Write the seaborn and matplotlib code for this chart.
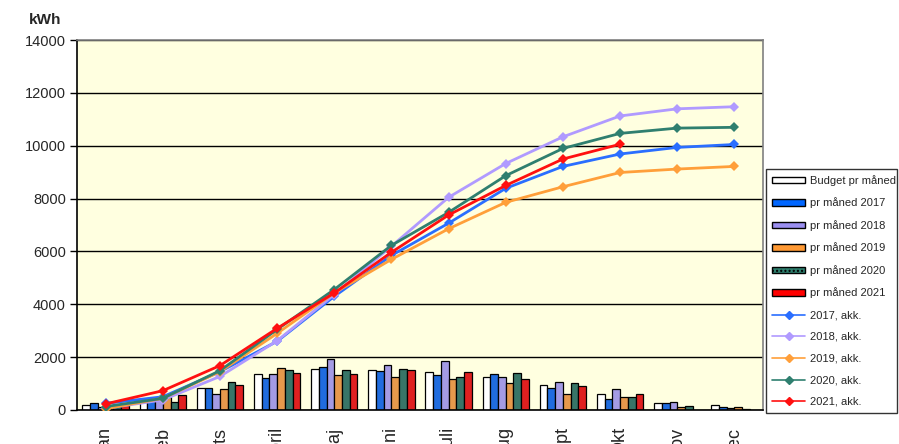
import matplotlib
matplotlib.use('Agg')
import matplotlib.pyplot as plt
import seaborn as sns
import numpy as np
import pandas as pd
from matplotlib.patches import Patch
from matplotlib.lines import Line2D

# months (Danish)
months = ['Jan', 'Feb', 'Marts', 'April', 'Maj', 'Juni', 'Juli', 'Aug', 'Sept', 'Okt', 'Nov', 'Dec']

# monthly bars (kWh)
budget = [180, 320, 820, 1350, 1570, 1520, 1440, 1260, 960, 620, 250, 180]
pm_2017 = [270, 380, 820, 1200, 1640, 1480, 1310, 1370, 820, 430, 250, 130]
pm_2018 = [100, 400, 590, 1350, 1920, 1700, 1870, 1260, 1050, 780, 300, 90]
pm_2019 = [100, 480, 780, 1600, 1310, 1260, 1180, 1010, 610, 510, 130, 130]
pm_2020 = [120, 290, 1050, 1520, 1520, 1570, 1240, 1390, 1010, 490, 160, 20]
pm_2021 = [190, 570, 960, 1390, 1350, 1520, 1430, 1180, 910, 610, None, None]

# accumulated lines (kWh)
akk_2017 = [250, 500, 1450, 2600, 4300, 5850, 7070, 8390, 9220, 9690, 9940, 10050]
akk_2018 = [60, 380, 1270, 2620, 4370, 6200, 8050, 9330, 10340, 11130, 11400, 11480]
akk_2019 = [50, 440, 1450, 2900, 4430, 5700, 6860, 7860, 8450, 8990, 9120, 9220]
akk_2020 = [130, 440, 1490, 3050, 4560, 6230, 7480, 8870, 9900, 10470, 10670, 10700]
akk_2021 = [230, 730, 1680, 3090, 4430, 5970, 7380, 8500, 9500, 10060, None, None]

bar_labels = ['Budget pr måned', 'pr måned 2017', 'pr måned 2018',
              'pr måned 2019', 'pr måned 2020', 'pr måned 2021']
bar_colors = ['#FFFFFF', '#0066FF', '#9B8FF0', '#FF9933', '#2E7F6E', '#FF0000']
line_labels = ['2017, akk.', '2018, akk.', '2019, akk.', '2020, akk.', '2021, akk.']
line_colors = ['#2A6EFF', '#B09AFF', '#FF9F3A', '#2F7F6F', '#FF1010']

rows = []
for lab, vals in zip(bar_labels, [budget, pm_2017, pm_2018, pm_2019, pm_2020, pm_2021]):
    for m, v in zip(months, vals):
        if v is not None:
            rows.append({'month': m, 'kWh': v, 'serie': lab})
bars = pd.DataFrame(rows)

rows = []
for lab, vals in zip(line_labels, [akk_2017, akk_2018, akk_2019, akk_2020, akk_2021]):
    for i, v in enumerate(vals):
        if v is not None:
            rows.append({'pos': i, 'kWh': v, 'serie': lab})
lines = pd.DataFrame(rows)

sns.set_style('white')
plt.rcParams['font.family'] = ['Liberation Sans', 'DejaVu Sans']

fig = plt.figure(figsize=(8.99, 4.44), dpi=100)
ax = fig.add_axes([0.0857, 0.0766, 0.763, 0.833])
ax.set_facecolor('#FFFFE0')

sns.barplot(data=bars, x='month', y='kWh', hue='serie', order=months,
            hue_order=bar_labels, palette=bar_colors, width=0.81,
            edgecolor='black', linewidth=0.9, legend=False, ax=ax, zorder=2)

# dotted pattern for 2020 bars
for p in ax.patches:
    fc = matplotlib.colors.to_hex(p.get_facecolor())
    if fc.lower() == '#2e7f6e':
        p.set_hatch('....')
        if hasattr(p, 'set_hatchcolor'):
            p.set_hatchcolor('#9FD0C0')

sns.lineplot(data=lines, x='pos', y='kWh', hue='serie', hue_order=line_labels,
             palette=line_colors, marker='D', markersize=5.5, markeredgewidth=0,
             linewidth=2, legend=False, ax=ax, zorder=3)

ax.set_xlim(-0.5, 11.5)
ax.set_ylim(0, 14000)
ax.set_yticks(np.arange(0, 14001, 2000))
ax.yaxis.grid(True, color='black', linewidth=1)
ax.set_axisbelow(True)
ax.set_xlabel('')
ax.set_ylabel('')

# month labels run off the bottom edge, as in the original
ax.set_xticks(range(12))
ax.set_xticklabels(months, rotation=90, fontsize=13)
ax.set_xticks(np.arange(-0.5, 12, 1), minor=True)
ax.tick_params(axis='x', which='major', length=0, pad=12)
ax.tick_params(axis='x', which='minor', length=5, width=1, color='black', direction='out')
ax.tick_params(axis='y', length=5, width=1, color='black', direction='out', labelsize=10.5, pad=3)
ax.tick_params(axis='both', bottom=True, left=True)

for s in ['left', 'bottom']:
    ax.spines[s].set_color('black')
    ax.spines[s].set_linewidth(1.2)
for s in ['top', 'right']:
    ax.spines[s].set_color('#808080')
    ax.spines[s].set_linewidth(1.2)

fig.text(0.032, 0.945, 'kWh', fontsize=11, fontweight='bold')

handles = [Patch(facecolor=c, edgecolor='black', linewidth=1, label=l,
                 hatch='....' if l.endswith('2020') else None)
           for c, l in zip(bar_colors, bar_labels)]
handles += [Line2D([], [], color=c, marker='D', markersize=4, linewidth=1.2, label=l)
            for c, l in zip(line_colors, line_labels)]
leg = fig.legend(handles=handles, loc='lower left', bbox_to_anchor=(0.852, 0.07, 0.146, 0.54),
                 mode='expand', fontsize=8, frameon=True, fancybox=False,
                 borderaxespad=0, handlelength=3, handleheight=0.5, labelspacing=1.05,
                 borderpad=0.55, handletextpad=0.4)
leg.get_frame().set_edgecolor('black')
leg.get_frame().set_linewidth(1)

fig.savefig('out.png', dpi=100)
